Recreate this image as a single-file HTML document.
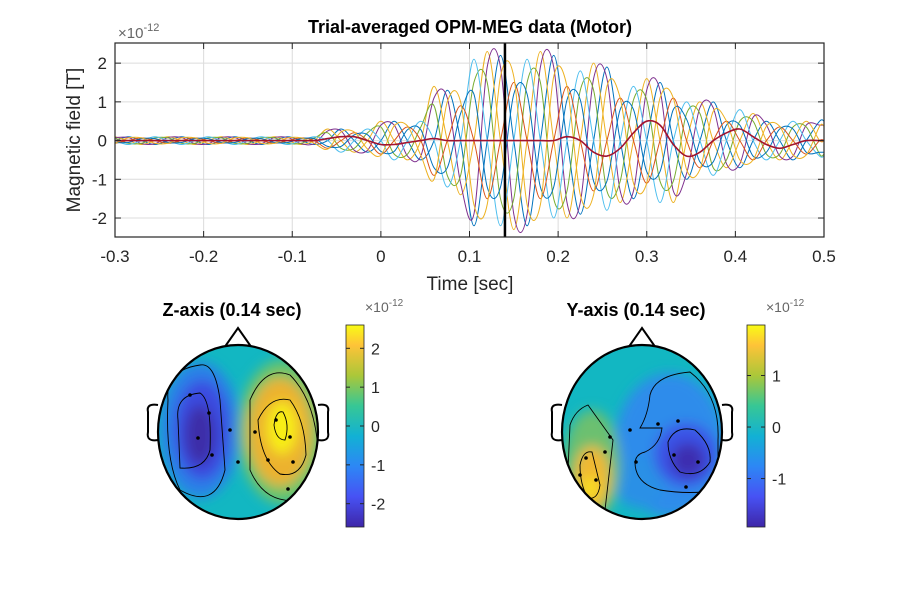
<!DOCTYPE html>
<html><head><meta charset="utf-8"><style>
html,body{margin:0;padding:0;background:#fff;}
svg text{font-family:"Liberation Sans",sans-serif;fill:#262626;}
</style></head><body>
<svg id="fig" width="910" height="593" viewBox="0 0 910 593" xmlns="http://www.w3.org/2000/svg">
<defs>
<linearGradient id="parula" x1="0" y1="1" x2="0" y2="0">
<stop offset="0" stop-color="#3E26A8"/><stop offset="0.15" stop-color="#4752F4"/><stop offset="0.3" stop-color="#2D87F5"/><stop offset="0.45" stop-color="#12B1D4"/><stop offset="0.6" stop-color="#37C795"/><stop offset="0.75" stop-color="#ABC739"/><stop offset="0.9" stop-color="#FEC338"/><stop offset="1" stop-color="#F9FB15"/>
</linearGradient>
<clipPath id="clipZ"><ellipse cx="238" cy="432" rx="80" ry="87"/></clipPath>
<clipPath id="clipY"><ellipse cx="642" cy="432" rx="80" ry="87"/></clipPath>
<clipPath id="clipTop"><rect x="115" y="43" width="709" height="194"/></clipPath>
<filter id="blur" x="-50%" y="-50%" width="200%" height="200%"><feGaussianBlur stdDeviation="6"/></filter>
</defs>
<g id="top-plot"></g>
<g id="topoZ"></g>
<g id="topoY"></g>
</svg>
<script>
const NS='http://www.w3.org/2000/svg';
const xTicks=[-0.3,-0.2,-0.1,0,0.1,0.2,0.3,0.4,0.5];
const xTickLabels=['-0.3','-0.2','-0.1','0','0.1','0.2','0.3','0.4','0.5'];
const yTicks=[-2,-1,0,1,2];
const yTickLabels=['-2','-1','0','1','2'];
const tStart=-0.3, tStep=0.015;
const chA=[0,.1,0,-.1,0,.1,0,-.1,0,.1,0,-.1,0,.1,0,-.1,0,.3,0,-.3,0,.5,0,-.5,0,1.3,0,-2.2,0,2.2,0,-2.2,0,2.2,0,-1.9,0,1.9,0,-1.5,0,1.5,0,-1.0,0,1.0,0,-.7,0,.5,0,-.5,0,.5];
const chB=[.1,0,-.1,0,.1,0,-.1,0,.1,0,-.1,0,.1,0,-.1,0,.3,0,-.3,0,.5,0,-.5,0,1.4,0,-1.4,0,2.3,0,-2.3,0,2.3,0,-2.0,0,2.0,0,-1.6,0,1.6,0,-1.6,0,1.0,0,-.7,0,.7,0,-.5,0,.5,0];
const chC=[.08,.08,-.08,-.08,.08,.08,-.08,-.08,.08,.08,-.08,-.08,.08,.08,-.08,-.08,.25,.25,-.25,-.25,.4,.4,-.4,-.4,1.1,1.1,-1.1,-1.9,1.9,1.9,-1.9,-1.9,1.9,1.9,-1.6,-1.6,1.6,1.6,-1.3,-1.3,1.3,1.3,-1.3,-.85,.85,.85,-.6,-.6,.6,.4,-.4,-.4,.4,.4];
const chD=[.07,-.07,-.07,.07,.07,-.07,-.07,.07,.07,-.07,-.07,.07,.07,-.07,-.07,.07,.2,-.2,-.2,.2,.35,-.35,-.35,.35,.9,-.9,-.9,1.5,1.5,-1.5,-1.5,1.5,1.5,-1.5,-1.3,1.3,1.3,-1.3,-1.05,1.05,1.05,-1.05,-1.05,.7,.7,-.7,-.5,.5,.5,-.35,-.35,.35,.35,-.35];
const chE=[0,-.1,0,.1,0,-.1,0,.1,0,-.1,0,.1,0,-.1,0,.1,0,-.3,0,.3,0,-.5,0,.5,0,-1.2,0,2.1,0,-2.2,0,2.1,0,-2.0,0,1.8,0,-1.8,0,1.4,0,-1.6,0,1.0,0,-.9,0,.8,0,-.5,0,.5,0,-.4];
const chF=[-.07,0,.07,0,-.07,0,.07,0,-.07,0,.07,0,-.07,0,.07,0,-.2,0,.2,0,-.35,0,.35,0,-.9,0,.9,0,-1.5,0,1.5,0,-1.5,0,1.4,0,-1.3,0,1.1,0,-1.1,0,1.1,0,-.7,0,.5,0,-.5,0,.35,0,-.35,0];
const chG=[-.05,-.05,.05,.05,-.05,-.05,.05,.05,-.05,-.05,.05,.05,-.05,-.05,.05,.05,-.15,-.15,.15,.15,-.28,-.28,.28,.28,-.7,-.7,.7,1.2,-1.2,-1.2,1.2,1.2,-1.2,-1.2,1.05,1.05,-1.05,-1.05,.8,.8,-.8,-.8,.8,.55,-.55,-.55,.4,.4,-.4,-.3,.3,.3,-.3,-.3];
const chH=[-.07,.07,.07,-.07,-.07,.07,.07,-.07,-.07,.07,.07,-.07,-.07,.07,.07,-.07,-.22,.22,.22,-.22,-.38,.38,.38,-.38,-1.0,1.0,1.0,-1.65,-1.65,1.65,1.65,-1.65,-1.65,1.65,1.4,-1.4,-1.4,1.4,1.1,-1.1,-1.1,1.1,1.1,-.75,-.75,.75,.5,-.5,-.5,.37,.37,-.37,-.37,.37];
const chI=[0,0,0,0,0,0,0,0,0,0,0,0,0,0,0,0,.05,.1,.1,0,-.1,-.1,-.05,0,.05,0,0,0,0,0,0,0,0,0,.1,0,-.3,-.4,-.2,.2,.5,.4,-.1,-.4,-.3,0,.2,.3,.1,-.1,-.2,-.1,0,0];
const channels=[chA,chB,chC,chD,chE,chF,chG,chH,chI];
const chColors=['#0072BD','#EDB120','#7E2F8E','#77AC30','#4DBEEE','#D95319','#0072BD','#EDB120','#A2142F'];
const cursorTime=0.14;
const X0=115,X1=824,Y0=43,Y1=237,XMIN=-0.3,XMAX=0.5,YMIN=-2.49,YMAX=2.52;
const sx=t=>X0+(t-XMIN)/(XMAX-XMIN)*(X1-X0);
const sy=v=>Y1-(v-YMIN)/(YMAX-YMIN)*(Y1-Y0);
function mk(tag,attrs,parent,text){const e=document.createElementNS(NS,tag);for(const k in attrs)e.setAttribute(k,attrs[k]);if(text!==undefined)e.textContent=text;parent.appendChild(e);return e;}
const topG=document.getElementById('top-plot');
xTicks.forEach((t,i)=>{const g=mk('line',{x1:sx(t),x2:sx(t),y1:Y0,y2:Y1,stroke:'#dcdcdc','stroke-width':1},topG);

});
yTicks.forEach(v=>{const g=mk('line',{x1:X0,x2:X1,y1:sy(v),y2:sy(v),stroke:'#dcdcdc','stroke-width':1},topG);

});
const lines=mk('g',{'clip-path':'url(#clipTop)'},topG);
channels.forEach((ch,ci)=>{
 const pts=ch.map((v,i)=>[sx(tStart+i*tStep),sy(v)]);
 pts.push([sx(XMAX),sy(ch[ch.length-1])]);
 let d='M'+pts[0][0].toFixed(1)+','+pts[0][1].toFixed(1);
 for(let i=0;i<pts.length-1;i++){const p0=pts[Math.max(0,i-1)],p1=pts[i],p2=pts[i+1],p3=pts[Math.min(pts.length-1,i+2)];
  const c1=[p1[0]+(p2[0]-p0[0])/6,p1[1]+(p2[1]-p0[1])/6],c2=[p2[0]-(p3[0]-p1[0])/6,p2[1]-(p3[1]-p1[1])/6];
  d+=`C${c1[0].toFixed(1)},${c1[1].toFixed(1)} ${c2[0].toFixed(1)},${c2[1].toFixed(1)} ${p2[0].toFixed(1)},${p2[1].toFixed(1)}`;}
 const p=mk('path',{d:d,fill:'none',stroke:chColors[ci],'stroke-width':ci===8?1.6:1},lines);
 
 
});
const cur=mk('line',{x1:sx(cursorTime),x2:sx(cursorTime),y1:Y0,y2:Y1,stroke:'#000','stroke-width':2.5},topG);


const box=mk('rect',{x:X0,y:Y0,width:X1-X0,height:Y1-Y0,fill:'none',stroke:'#262626','stroke-width':1.2},topG);


xTicks.forEach((t,i)=>{
 mk('line',{x1:sx(t),x2:sx(t),y1:Y1,y2:Y1-6,stroke:'#262626'},topG);
 mk('line',{x1:sx(t),x2:sx(t),y1:Y0,y2:Y0+6,stroke:'#262626'},topG);
 const l=mk('text',{x:sx(t),y:Y1+25,'text-anchor':'middle','font-size':17},topG,xTickLabels[i]);
 
 });
yTicks.forEach((v,i)=>{
 mk('line',{x1:X0,x2:X0+6,y1:sy(v),y2:sy(v),stroke:'#262626'},topG);
 mk('line',{x1:X1,x2:X1-6,y1:sy(v),y2:sy(v),stroke:'#262626'},topG);
 const l=mk('text',{x:X0-8,y:sy(v)+6,'text-anchor':'end','font-size':17},topG,yTickLabels[i]);
 
 });
const tt=mk('text',{x:470,y:33,'text-anchor':'middle','font-size':18,'font-weight':'bold',style:'fill:#000'},topG,'Trial-averaged OPM-MEG data (Motor)');


const xl=mk('text',{x:470,y:290,'text-anchor':'middle','font-size':19},topG,'Time [sec]');


const yl=mk('text',{x:80,y:140,'text-anchor':'middle','font-size':19,transform:'rotate(-90 80 140)'},topG,'Magnetic field [T]');


const ex=mk('text',{x:118,y:38,'font-size':15,style:'fill:#666'},topG);
ex.innerHTML='×10<tspan dy="-7" font-size="11">-12</tspan>';



const zBlobs=[[200,430,40,68,'#2A80E8'],[202,430,28,50,'#3A4BE0'],[200,435,15,30,'#3D2FA8'],[282,432,44,72,'#6CC46A'],[280,432,32,54,'#ECB22E'],[282,428,15,26,'#F8EE18']];
const zSens=[[190,395],[209,413],[198,438],[212,455],[230,430],[238,462],[255,432],[268,460],[290,437],[276,420],[293,462],[288,489]];
function topo(gid,cx,clip,blobs,cbx,cbTicks,cbLabels,cbMax,cbMin,title,contours,sens){
 const g=document.getElementById(gid);
 const t=mk('text',{x:cx-6,y:316,'text-anchor':'middle','font-size':18,'font-weight':'bold',style:'fill:#000'},g,title);
 
 
 mk('path',{d:`M${cx-80},405 Q${cx-92},403 ${cx-90},412 L${cx-90},432 Q${cx-92},442 ${cx-80},440`,fill:'#fff',stroke:'#000','stroke-width':2},g);
 mk('path',{d:`M${cx+80},405 Q${cx+92},403 ${cx+90},412 L${cx+90},432 Q${cx+92},442 ${cx+80},440`,fill:'#fff',stroke:'#000','stroke-width':2},g);
 mk('path',{d:`M${cx-14},348 L${cx},328 L${cx+14},348`,fill:'#fff',stroke:'#000','stroke-width':2},g);
 const fg=mk('g',{'clip-path':`url(#${clip})`},g);
 mk('rect',{x:cx-90,y:340,width:180,height:190,fill:'#12B7C2'},fg);
 const bg=mk('g',{filter:'url(#blur)'},fg);
 blobs.forEach(b=>{const e=mk('ellipse',{cx:b[0],cy:b[1],rx:b[2],ry:b[3],fill:b[4]},bg);
  
  });
 contours.forEach(c=>mk('path',{d:c,fill:'none',stroke:'#000','stroke-width':0.9},fg));
 sens.forEach(s=>{const d=mk('circle',{cx:s[0],cy:s[1],r:1.8,fill:'#000'},fg);
  
  });
 const head=mk('ellipse',{cx:cx,cy:432,rx:80,ry:87,fill:'none',stroke:'#000','stroke-width':2.2},g);
 
 
 const cb=mk('rect',{x:cbx,y:325,width:18,height:202,fill:'url(#parula)',stroke:'#262626','stroke-width':0.8},g);
 
 
 const cy=v=>527-(v-cbMin)/(cbMax-cbMin)*202;
 cbTicks.forEach((v,i)=>{mk('line',{x1:cbx+18,x2:cbx+14,y1:cy(v),y2:cy(v),stroke:'#262626'},g);
  mk('line',{x1:cbx,x2:cbx+4,y1:cy(v),y2:cy(v),stroke:'#262626'},g);
  const l=mk('text',{x:cbx+25,y:cy(v)+6,'font-size':16},g,cbLabels[i]);
  
  });
 const e=mk('text',{x:cbx+19,y:312,'font-size':14,style:'fill:#666'},g);
 e.innerHTML='×10<tspan dy="-6" font-size="10">-12</tspan>';
 
 
}
topo('topoZ',238,'clipZ',zBlobs,346,[-2,-1,0,1,2],['-2','-1','0','1','2'],2.6,-2.6,'Z-axis (0.14 sec)',
 ['M168,400 Q165,370 200,365 Q215,362 220,400 L225,470 Q215,510 180,490 Q165,460 168,400Z',
  'M178,420 Q175,395 200,393 Q212,400 210,450 Q205,470 180,468 Z',
  'M250,400 Q265,365 290,375 Q315,400 318,450 L300,500 Q265,505 250,470 Z',
  'M258,420 Q270,395 290,400 Q305,420 306,455 Q300,478 280,474 Q260,460 258,420 Z',
  'M274,425 Q276,410 283,412 Q290,425 285,440 Q276,440 274,425 Z'],zSens);
const yBlobs=[[670,445,55,72,'#2D8CEB'],[640,482,26,26,'#2A90E6'],[686,455,32,32,'#3A52E6'],[688,460,17,17,'#3E2FB0'],[592,465,28,55,'#6CC070'],[592,478,18,32,'#F0B830'],[590,488,8,12,'#F8E020']];
const ySens=[[580,475],[586,458],[596,480],[605,452],[610,437],[630,430],[636,462],[658,424],[678,421],[674,455],[698,462],[686,487]];
topo('topoY',642,'clipY',yBlobs,747,[-1,0,1],['-1','0','1'],1.98,-1.94,'Y-axis (0.14 sec)',
 ['M570,425 Q575,410 588,405 L613,440 L605,510 Q585,505 568,470 Z',
  'M580,465 Q583,450 592,452 L600,485 Q598,500 588,498 Q580,485 580,465 Z',
  'M650,395 Q655,375 690,372 Q720,395 718,440 L718,490 Q690,495 660,490 Q640,485 636,470 Q632,455 645,452 Q660,445 662,428 L640,428 Q648,415 650,395 Z',
  'M668,442 Q675,425 695,430 Q712,445 710,462 Q700,478 680,472 Q668,460 668,442 Z'],ySens);
</script>
</body></html>
